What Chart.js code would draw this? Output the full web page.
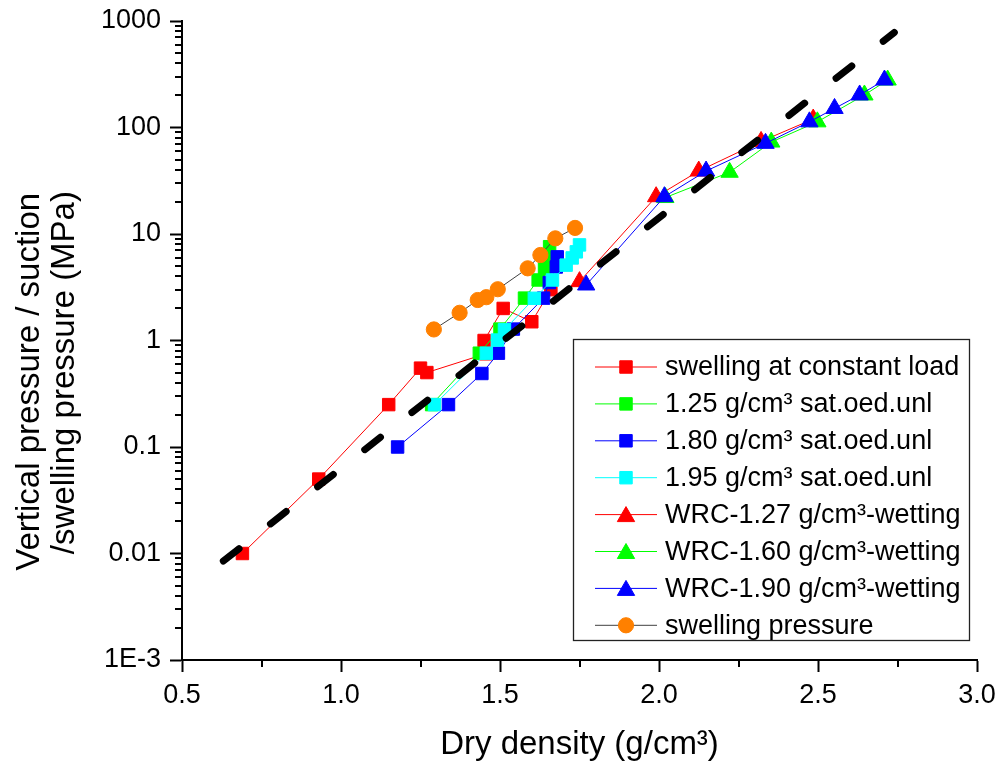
<!DOCTYPE html>
<html>
<head>
<meta charset="utf-8">
<script src="https://cdn.jsdelivr.net/npm/chart.js@4/dist/chart.umd.min.js"></script>
<style>
html,body{margin:0;padding:0;background:#ffffff;}
#wrap{width:997px;height:769px;position:relative;}
</style>
</head>
<body>
<div id="wrap"><canvas id="c" width="997" height="769"></canvas></div>
<script>
// ---------- DATA ----------
const seriesLabels = [
  'swelling at constant load',
  '1.25 g/cm³ sat.oed.unl',
  '1.80 g/cm³ sat.oed.unl',
  '1.95 g/cm³ sat.oed.unl',
  'WRC-1.27 g/cm³-wetting',
  'WRC-1.60 g/cm³-wetting',
  'WRC-1.90 g/cm³-wetting',
  'swelling pressure'
];

const loadX = [0.69, 0.93, 1.15, 1.25, 1.27, 1.455, 1.45, 1.51, 1.60, 1.66];
const loadY = [0.01, 0.05, 0.25, 0.55, 0.50, 0.75, 1.0, 2.0, 1.5, 3.0];

const oed125X = [1.285, 1.435, 1.50, 1.577, 1.62, 1.64, 1.647, 1.656];
const oed125Y = [0.25, 0.76, 1.28, 2.5, 3.7, 4.7, 6.1, 7.6];

const oed180X = [1.178, 1.338, 1.443, 1.495, 1.542, 1.637, 1.655, 1.677, 1.68];
const oed180Y = [0.1, 0.25, 0.49, 0.76, 1.28, 2.5, 3.5, 4.9, 6.1];

const oed195X = [1.294, 1.457, 1.492, 1.514, 1.608, 1.665, 1.708, 1.727, 1.740, 1.750];
const oed195Y = [0.25, 0.76, 1.01, 1.26, 2.49, 3.7, 5.1, 5.96, 6.8, 7.9];

const wrc127X = [1.75, 1.991, 2.125, 2.321, 2.485];
const wrc127Y = [3.57, 22.4, 39, 74, 120];

const wrc160X = [2.02, 2.222, 2.353, 2.498, 2.646, 2.719];
const wrc160Y = [22, 38, 73, 113, 202, 279];

const wrc190X = [1.771, 2.017, 2.148, 2.335, 2.473, 2.552, 2.631, 2.709];
const wrc190Y = [3.32, 22.4, 39, 71, 113, 151, 202, 279];

const swellPX = [1.292, 1.373, 1.430, 1.457, 1.493, 1.587, 1.627, 1.674, 1.736];
const swellPY = [1.27, 1.82, 2.40, 2.55, 3.03, 4.76, 6.35, 9.1, 11.4];

const trendX = [0.63, 2.74];
const trendY = [0.0085, 780];

const xTickValues = [0.5, 1.0, 1.5, 2.0, 2.5, 3.0];
const yTickValues = [0.001, 0.01, 0.1, 1, 10, 100, 1000];
const yTickLabels = ['1E-3', '0.01', '0.1', '1', '10', '100', '1000'];

const xTitle = 'Dry density (g/cm³)';
const yTitle = ['Vertical pressure / suction', '/swelling pressure (MPa)'];

// ---------- BUILD ----------
const FONT = '"Liberation Sans", Arial, Helvetica, sans-serif';
function pts(xs, ys) { return xs.map((x, i) => ({ x: x, y: ys[i] })); }

function series(idx, xs, ys, lineColor, fillColor, style, radius) {
  return {
    label: seriesLabels[idx],
    data: pts(xs, ys),
    borderColor: lineColor,
    backgroundColor: fillColor,
    borderWidth: 1,
    pointStyle: style,
    pointRadius: radius,
    pointHoverRadius: radius,
    pointBackgroundColor: fillColor,
    pointBorderColor: fillColor,
    pointBorderWidth: 1,
    tension: 0,
    order: 10 - idx,
    inLegend: true
  };
}

const datasets = [
  series(0, loadX, loadY, '#ff0000', '#ff0000', 'rect', 8.8),
  series(1, oed125X, oed125Y, '#00ff00', '#00ff00', 'rect', 8.8),
  series(2, oed180X, oed180Y, '#0000ff', '#0000ff', 'rect', 8.8),
  series(3, oed195X, oed195Y, '#00ffff', '#00ffff', 'rect', 8.8),
  series(4, wrc127X, wrc127Y, '#ff0000', '#ff0000', 'triangle', 10),
  series(5, wrc160X, wrc160Y, '#00ff00', '#00ff00', 'triangle', 10),
  series(6, wrc190X, wrc190Y, '#0000ff', '#0000ff', 'triangle', 10),
  series(7, swellPX, swellPY, '#404040', '#ff8000', 'circle', 7.6),
  {
    label: 'trend',
    data: pts(trendX, trendY),
    borderColor: '#000000',
    borderWidth: 7,
    borderDash: [20, 40],
    borderCapStyle: 'round',
    pointRadius: 0,
    pointHoverRadius: 0,
    fill: false,
    order: 0,
    inLegend: false
  }
];

const minorTicks = {
  id: 'minorTicks',
  afterDraw(chart) {
    const ctx = chart.ctx;
    const xs = chart.scales.x, ys = chart.scales.y;
    const area = chart.chartArea;
    ctx.save();
    ctx.strokeStyle = '#000';
    ctx.lineWidth = 2;
    ctx.beginPath();
    for (let i = 0; i < xTickValues.length - 1; i++) {
      const v = (xTickValues[i] + xTickValues[i + 1]) / 2;
      const px = Math.round(xs.getPixelForValue(v));
      ctx.moveTo(px, area.bottom);
      ctx.lineTo(px, area.bottom + 7);
    }
    for (let i = 0; i < yTickValues.length - 1; i++) {
      for (let m = 2; m <= 9; m++) {
        const py = Math.round(ys.getPixelForValue(yTickValues[i] * m));
        ctx.moveTo(area.left, py);
        ctx.lineTo(area.left - 7, py);
      }
    }
    ctx.stroke();
    ctx.restore();
  }
};

const boxLegend = {
  id: 'boxLegend',
  afterDraw(chart) {
    const ctx = chart.ctx;
    const L = 573.5, T = 339.5, R = 969.5, B = 640.5;
    ctx.save();
    ctx.fillStyle = '#ffffff';
    ctx.fillRect(L, T, R - L, B - T);
    ctx.strokeStyle = '#222';
    ctx.lineWidth = 1.3;
    ctx.strokeRect(L, T, R - L, B - T);
    const items = chart.data.datasets.filter(d => d.inLegend);
    const x0 = 595, x1 = 657, xm = 626, xt = 665;
    const y0 = 367, dy = 36.9;
    ctx.font = '27px ' + FONT;
    ctx.textBaseline = 'middle';
    ctx.textAlign = 'left';
    items.forEach((d, i) => {
      const y = y0 + i * dy;
      ctx.strokeStyle = d.borderColor;
      ctx.lineWidth = 1;
      ctx.beginPath();
      ctx.moveTo(x0, y);
      ctx.lineTo(x1, y);
      ctx.stroke();
      ctx.fillStyle = d.pointBackgroundColor;
      ctx.strokeStyle = d.pointBorderColor;
      ctx.lineWidth = 1;
      Chart.helpers.drawPoint(ctx, { pointStyle: d.pointStyle, radius: d.pointRadius, borderWidth: 1, rotation: 0 }, xm, y + (d.pointStyle === 'triangle' ? 2 : 0));
      ctx.fillStyle = '#000';
      ctx.fillText(d.label, xt, y + 1);
    });
    ctx.restore();
  }
};

// trailing spaces shift the rotated title lines down to where they sit in the original
const yTitleLines = [yTitle[0] + '         ', yTitle[1] + '       '];

const chart = new Chart(document.getElementById('c'), {
  type: 'line',
  data: { datasets: datasets },
  options: {
    responsive: false,
    devicePixelRatio: 1,
    animation: false,
    events: [],
    layout: { padding: { top: 21, right: 20, left: 0, bottom: 0 } },
    plugins: {
      legend: { display: false },
      tooltip: { enabled: false }
    },
    scales: {
      x: {
        type: 'linear',
        min: 0.5,
        max: 3.0,
        afterBuildTicks(scale) { scale.ticks = xTickValues.map(v => ({ value: v })); },
        afterFit(scale) { scale.height = 109; scale.paddingLeft = 0; scale.paddingRight = 0; },
        ticks: {
          callback: (v) => Number(v).toFixed(1),
          font: { size: 27, family: FONT },
          color: '#000',
          padding: 7,
          maxRotation: 0,
          autoSkip: false
        },
        grid: { drawOnChartArea: false, drawTicks: true, tickLength: 12, tickWidth: 2, tickColor: '#000' },
        border: { display: true, color: '#000', width: 2 },
        title: {
          display: true,
          text: xTitle,
          font: { size: 33, family: FONT },
          color: '#000',
          padding: { top: 0, bottom: 4 }
        }
      },
      y: {
        type: 'logarithmic',
        min: 0.001,
        max: 1000,
        afterBuildTicks(scale) { scale.ticks = yTickValues.map(v => ({ value: v })); },
        afterFit(scale) { scale.width = 182; scale.paddingTop = 0; scale.paddingBottom = 0; },
        ticks: {
          callback: (v, i) => yTickLabels[i],
          font: { size: 27, family: FONT },
          color: '#000',
          padding: 9,
          autoSkip: false
        },
        grid: { drawOnChartArea: false, drawTicks: true, tickLength: 12, tickWidth: 2, tickColor: '#000' },
        border: { display: true, color: '#000', width: 2 },
        title: {
          display: true,
          text: yTitleLines,
          font: { size: 33, family: FONT, lineHeight: 1.05 },
          color: '#000',
          padding: { top: 13, bottom: 0 }
        }
      }
    }
  },
  plugins: [minorTicks, boxLegend]
});
</script>
</body>
</html>
